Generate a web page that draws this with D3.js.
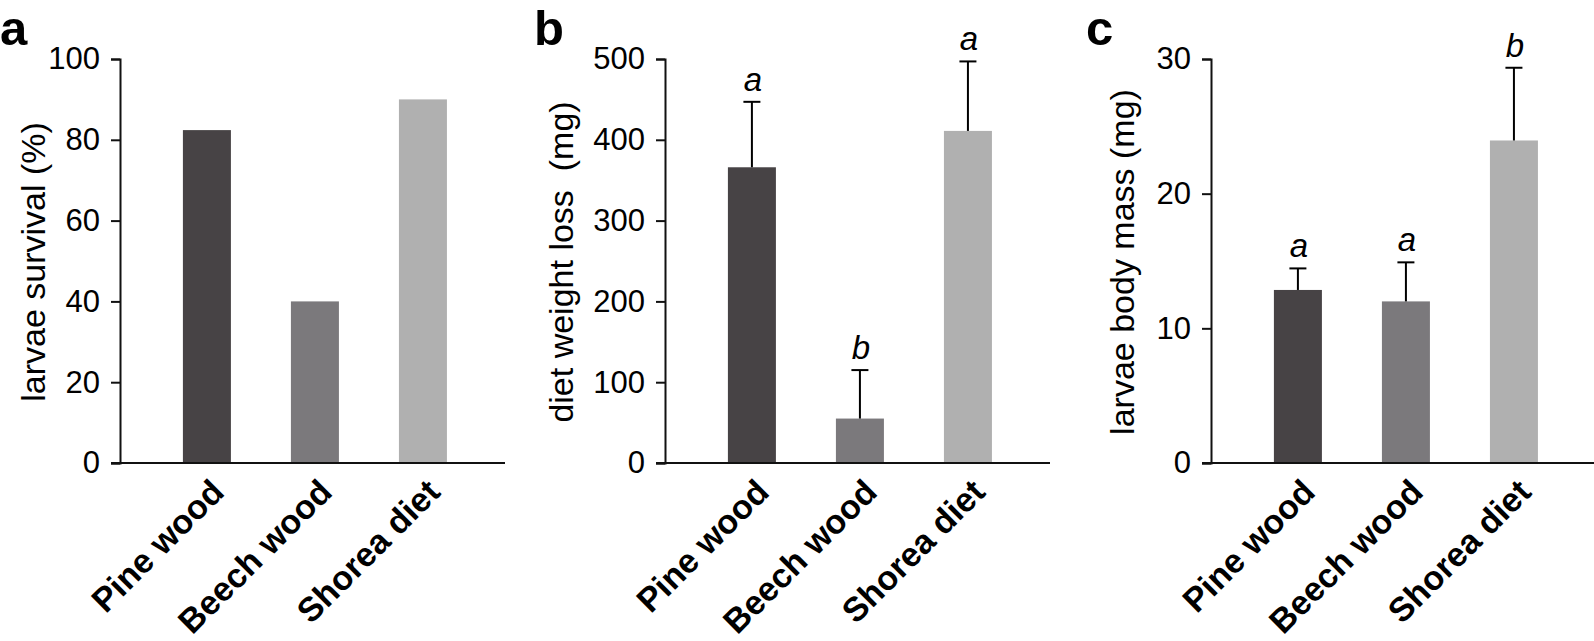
<!DOCTYPE html>
<html>
<head>
<meta charset="utf-8">
<script src="https://cdn.jsdelivr.net/npm/d3@7"></script>
<style>
  body { margin: 0; background: #fff; }
  svg { display: block; font-family: Arial, "Liberation Sans", Helvetica, sans-serif; }
</style>
</head>
<body>
<svg id="chart" width="1594" height="641"></svg>
<script>
// data
var categories = ['Pine wood', 'Beech wood', 'Shorea diet'];
var barColors = ['#474345', '#7b797c', '#b0b0b0'];

var survival = [82.4, 40, 90];

var weightLoss = [366, 55, 411];
var weightLossErr = [81, 60, 86];
var weightLetters = ['a', 'b', 'a'];

var bodyMass = [12.85, 12.0, 23.95];
var bodyMassErr = [1.6, 2.9, 5.4];
var massLetters = ['a', 'a', 'b'];

var survivalTicks = [0, 20, 40, 60, 80, 100];
var weightTicks = [0, 100, 200, 300, 400, 500];
var massTicks = [0, 10, 20, 30];

var svg = d3.select('#chart');
var yTop = 59, yBottom = 463;

function drawPanel(opt) {
  var g = svg.append('g').attr('transform', 'translate(' + opt.left + ',0)');

  var x = d3.scaleBand()
    .domain(categories)
    .range([0, 385])
    .paddingInner(0.5556)
    .paddingOuter(0.56)
    .align(0.52);

  var y = d3.scaleLinear()
    .domain([0, d3.max(opt.ticks)])
    .range([yBottom, yTop]);

  // bars
  g.selectAll('rect.bar')
    .data(opt.values)
    .enter().append('rect')
    .attr('class', 'bar')
    .attr('x', function (d, i) { return x(categories[i]); })
    .attr('width', x.bandwidth())
    .attr('y', function (d) { return y(d); })
    .attr('height', function (d) { return yBottom - y(d); })
    .attr('fill', function (d, i) { return barColors[i]; });

  // error bars (upper only)
  if (opt.errors) {
    opt.values.forEach(function (v, i) {
      var cx = x(categories[i]) + x.bandwidth() / 2;
      var top = y(v + opt.errors[i]);
      g.append('line')
        .attr('x1', cx).attr('x2', cx)
        .attr('y1', y(v)).attr('y2', top)
        .attr('stroke', '#000').attr('stroke-width', 2);
      g.append('line')
        .attr('x1', cx - 8.5).attr('x2', cx + 8.5)
        .attr('y1', top).attr('y2', top)
        .attr('stroke', '#000').attr('stroke-width', 2);
      g.append('text')
        .attr('x', cx + 1)
        .attr('y', top - 11)
        .attr('text-anchor', 'middle')
        .style('font-size', '33px')
        .style('font-style', 'italic')
        .text(opt.letters[i]);
    });
  }

  // y axis
  var yAxis = g.append('g')
    .call(d3.axisLeft(y).tickValues(opt.ticks).tickSize(9).tickPadding(11));
  yAxis.selectAll('path, line').attr('stroke', '#111').attr('stroke-width', 2);
  yAxis.selectAll('text').style('font-size', '31px').attr('fill', '#000')
    .style('font-family', 'Arial, "Liberation Sans", sans-serif');

  // x axis line
  g.append('line')
    .attr('x1', -9).attr('x2', 385)
    .attr('y1', yBottom).attr('y2', yBottom)
    .attr('stroke', '#111').attr('stroke-width', 2);

  // rotated category labels
  var xAxis = g.append('g')
    .attr('transform', 'translate(0,' + yBottom + ')')
    .call(d3.axisBottom(x).tickSize(0).tickSizeOuter(0));
  xAxis.select('.domain').remove();
  xAxis.selectAll('text')
    .style('font-size', '34px')
    .style('font-weight', 'bold')
    .style('font-family', 'Arial, "Liberation Sans", sans-serif')
    .attr('fill', '#000')
    .attr('text-anchor', 'end')
    .attr('dy', null)
    .attr('y', null)
    .attr('transform', 'translate(19,31) rotate(-45)');

  // y axis title
  g.append('text')
    .attr('transform', 'translate(' + (-opt.titleGap) + ',262) rotate(-90)')
    .attr('text-anchor', 'middle')
    .style('font-size', '34px')
    .style('white-space', 'pre')
    .text(opt.title);

  // panel letter
  svg.append('text')
    .attr('x', opt.letterX)
    .attr('y', 45)
    .style('font-size', '49px')
    .style('font-weight', 'bold')
    .text(opt.letter);
}

drawPanel({ left: 120, values: survival, ticks: survivalTicks, titleGap: 75,
  title: 'larvae survival (%)', letter: 'a', letterX: 0 });
drawPanel({ left: 665, values: weightLoss, errors: weightLossErr, letters: weightLetters,
  ticks: weightTicks, titleGap: 92, title: 'diet weight loss  (mg)', letter: 'b', letterX: 534 });
drawPanel({ left: 1211, values: bodyMass, errors: bodyMassErr, letters: massLetters,
  ticks: massTicks, titleGap: 77, title: 'larvae body mass (mg)', letter: 'c', letterX: 1086 });
</script>
</body>
</html>
